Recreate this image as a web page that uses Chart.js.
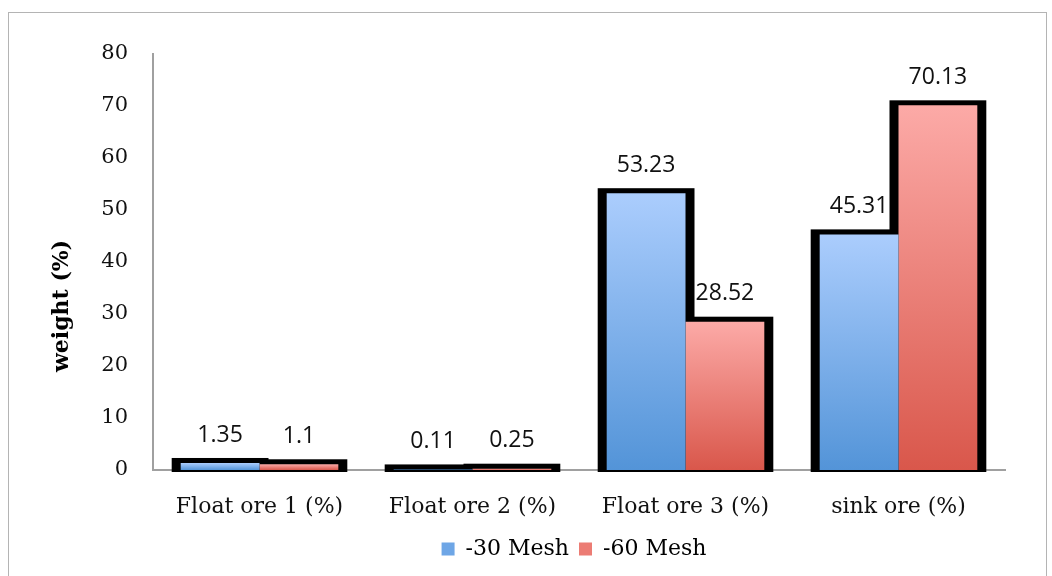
<!DOCTYPE html>
<html>
<head>
<meta charset="utf-8">
<script src="https://cdn.jsdelivr.net/npm/chart.js@4"></script>
<style>
    body { margin: 0; background: #fff; overflow: hidden; }
    #frame { position: absolute; left: 8px; top: 12px; width: 1037px; height: 600px; border: 1px solid #b4b4b4; }
    #wrap { position: absolute; left: 0; top: 0; width: 1052px; height: 576px; }
</style>
</head>
<body>
<div id="frame"></div>
<div id="wrap"><canvas id="mychart" width="1052" height="576"></canvas></div>
<script>
const categories = ['Float ore 1 (%)', 'Float ore 2 (%)', 'Float ore 3 (%)', 'sink ore (%)'];
const mesh30 = [1.35, 0.11, 53.23, 45.31];
const mesh60 = [1.1, 0.25, 28.52, 70.13];
const seriesNames = ['-30 Mesh', '-60 Mesh'];
const yTitle = 'weight (%)';

const serif = "'DejaVu Serif', serif";

// gradient runs from the top of each bar down to its base
const makeGradient = (top, bottom) => (ctx) => {
    const chart = ctx.chart;
    const y = chart.scales.y;
    if (ctx.raw === undefined || !y || !chart.chartArea) return bottom;
    const yTop = y.getPixelForValue(ctx.raw);
    const yBase = y.getPixelForValue(0);
    if (!isFinite(yTop) || yBase - yTop < 1) return bottom;
    const g = chart.ctx.createLinearGradient(0, yTop, 0, yBase);
    g.addColorStop(0, top);
    g.addColorStop(1, bottom);
    return g;
};

// black outline drawn behind the bars (left, top and right)
const outlinePlugin = {
    id: 'outline',
    afterLayout(chart) {
        // legend sits centred under the plot area, not the whole canvas
        const l = chart.legend;
        const shift = (chart.chartArea.left + chart.chartArea.right) / 2 - 5 - (l.left + l.right) / 2;
        l.left += shift;
        l.right += shift;
    },
    beforeDatasetsDraw(chart) {
        const c = chart.ctx;
        c.save();
        c.fillStyle = '#000';
        chart.data.datasets.forEach((ds, i) => {
            chart.getDatasetMeta(i).data.forEach((bar) => {
                const w = bar.width;
                c.fillRect(bar.x - w / 2 - 9, bar.y - 5, w + 18, bar.base - bar.y + 7);
            });
        });
        c.restore();
    }
};

const valueLabels = {
    id: 'valueLabels',
    afterDatasetsDraw(chart) {
        const c = chart.ctx;
        c.save();
        c.font = "23px 'Open Sans', sans-serif";
        c.fillStyle = '#111';
        c.textAlign = 'center';
        c.textBaseline = 'middle';
        chart.data.datasets.forEach((ds, i) => {
            chart.getDatasetMeta(i).data.forEach((bar, j) => {
                c.fillText(String(ds.data[j]), bar.x, bar.y - 28);
            });
        });
        // y axis title, sitting a bit below the middle of the axis
        c.font = 'bold 22px ' + serif;
        c.fillStyle = '#000';
        c.translate(62, 306);
        c.rotate(-Math.PI / 2);
        c.fillText(yTitle, 0, 0);
        c.restore();
    }
};

let ctx = document.getElementById('mychart').getContext('2d');
let oreChart = new Chart(ctx, {
    type: 'bar',
    data: {
        labels: categories,
        datasets: [{
            label: seriesNames[0],
            data: mesh30,
            backgroundColor: makeGradient('#abcdfd', '#5394d8'),
            borderWidth: 0
        }, {
            label: seriesNames[1],
            data: mesh60,
            backgroundColor: makeGradient('#fcaaa7', '#d9574b'),
            borderWidth: 0
        }]
    },
    options: {
        responsive: false,
        animation: false,
        layout: { padding: { left: 96, right: 47, top: 54, bottom: 6 } },
        datasets: {
            bar: { categoryPercentage: 0.74, barPercentage: 1.0 }
        },
        scales: {
            x: {
                grid: { display: false, drawTicks: false },
                border: { display: true, color: '#a0a0a0', width: 2 },
                ticks: { font: { family: serif, size: 22 }, color: '#111', padding: 24 },
                afterFit: (scale) => { scale.height = 58; }
            },
            y: {
                min: 0,
                max: 80,
                grid: { display: false, drawTicks: false },
                border: { display: true, color: '#a0a0a0', width: 2 },
                ticks: { stepSize: 10, font: { family: serif, size: 21 }, color: '#111', padding: 25 },
                afterFit: (scale) => { scale.width = 57; }
            }
        },
        plugins: {
            legend: {
                position: 'bottom',
                labels: {
                    font: { family: serif, size: 22 },
                    color: '#111',
                    boxWidth: 13,
                    boxHeight: 13,
                    padding: 10,
                    generateLabels: () => [
                        { text: seriesNames[0], fillStyle: '#6ea6e6', strokeStyle: '#6ea6e6', lineWidth: 0, datasetIndex: 0 },
                        { text: seriesNames[1], fillStyle: '#ec7c74', strokeStyle: '#ec7c74', lineWidth: 0, datasetIndex: 1 }
                    ]
                }
            },
            tooltip: { enabled: false }
        }
    },
    plugins: [outlinePlugin, valueLabels]
});
</script>
</body>
</html>
